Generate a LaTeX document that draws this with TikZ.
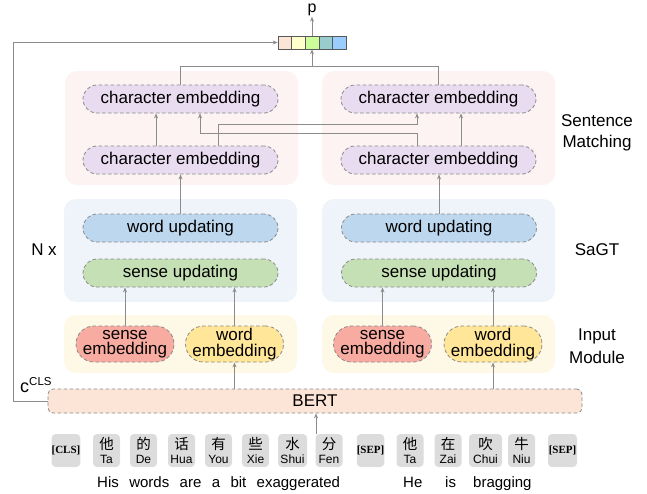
\documentclass[tikz,border=0pt]{standalone}
\usepackage{fontspec}
\setmainfont{Liberation Sans}
\newfontfamily\zhfont{Noto Sans CJK SC}
\newfontfamily\serifb{Liberation Serif}
\usetikzlibrary{arrows.meta}
\definecolor{agray}{HTML}{8C8C8C}
\definecolor{dgray}{HTML}{8A8A8A}
\definecolor{smbg}{HTML}{FCF3F2}
\definecolor{sgbg}{HTML}{EFF4FA}
\definecolor{inbg}{HTML}{FEF8E6}
\definecolor{charc}{HTML}{EADCF0}
\definecolor{wordu}{HTML}{BDD7EE}
\definecolor{senseu}{HTML}{C5E0B4}
\definecolor{sensee}{HTML}{F8ABA0}
\definecolor{worde}{HTML}{FFE699}
\definecolor{bertc}{HTML}{FCE4D6}
\definecolor{tokc}{HTML}{DCDCDC}
\definecolor{ca}{HTML}{FCE4D6}
\definecolor{cb}{HTML}{FFFFCC}
\definecolor{cc}{HTML}{CCFF99}
\definecolor{cd}{HTML}{99CCCC}
\definecolor{ce}{HTML}{99CCFF}
\newcommand{\fs}{\fontsize{17}{14}\selectfont}
\newcommand{\zh}[2]{{\zhfont\fontsize{14.5}{14}\selectfont #1}\\#2}
\newcommand{\spc}[1]{{\serifb\bfseries\fontsize{11}{11}\selectfont #1}}
\begin{document}
\begin{tikzpicture}[x=1pt,y=-1pt,
  grp/.style={draw=none, rounded corners=12pt, inner sep=0, minimum width=233pt},
  pill/.style={draw=dgray, dash pattern=on 3.5pt off 2.5pt, line width=0.8pt, rounded corners=14pt, minimum width=195pt, minimum height=28pt, inner sep=0, font=\fs},
  emb/.style={pill, rounded corners=18pt, minimum width=98pt, minimum height=36pt, align=center, font=\fontsize{17}{15.5}\selectfont},
  arr/.style={draw=agray, line width=0.8pt, -{Stealth[length=5pt,width=4pt]}},
  ln/.style={draw=agray, line width=0.8pt},
  cell/.style={draw=black!65, line width=0.6pt, minimum width=13.6pt, minimum height=13pt, inner sep=0},
  tok/.style={fill=tokc, rounded corners=4pt, minimum width=27pt, minimum height=33pt, inner sep=0, align=center, font=\fontsize{12}{13.5}\selectfont},
  lab/.style={font=\fs, align=center, inner sep=0},
  wd/.style={font=\fontsize{15}{15}\selectfont, anchor=base west, inner sep=0}
]
\useasboundingbox (0,0) rectangle (647,493);

% group backgrounds
\node[grp, fill=smbg, minimum height=114pt] (smL) at (181.5,128) {};
\node[grp, fill=smbg, minimum height=114pt] (smR) at (438.5,128) {};
\node[grp, fill=sgbg, minimum height=103pt] (sgL) at (180.5,250.5) {};
\node[grp, fill=sgbg, minimum height=103pt] (sgR) at (438.5,250.5) {};
\node[grp, fill=inbg, minimum height=58pt] (inL) at (180.5,344) {};
\node[grp, fill=inbg, minimum height=58pt] (inR) at (438.5,344) {};

% sentence matching
\node[pill, fill=charc] (lct) at (180.5,99) {character embedding};
\node[pill, fill=charc] (lcb) at (180.5,160) {character embedding};
\node[pill, fill=charc] (rct) at (438.5,99) {character embedding};
\node[pill, fill=charc] (rcb) at (438.5,160) {character embedding};

% SaGT
\node[pill, fill=wordu] (lwu) at (180.5,228) {word updating};
\node[pill, fill=senseu] (lsu) at (180.5,273) {sense updating};
\node[pill, fill=wordu] (rwu) at (439,228) {word updating};
\node[pill, fill=senseu] (rsu) at (439,273) {sense updating};

% input module
\node[emb, fill=sensee] (lse) at (125,344) {sense\\embedding};
\node[emb, fill=worde] (lwe) at (234.5,344) {word\\embedding};
\node[emb, fill=sensee] (rse) at (382.5,344) {sense\\embedding};
\node[emb, fill=worde] (rwe) at (493,344) {word\\embedding};

% BERT
\node[pill, fill=bertc, rounded corners=5pt, minimum width=534pt, minimum height=24pt] (bert) at (315,401) {BERT};

% output vector
\node[cell, fill=ca] (v1) at (284.8,42.5) {};
\node[cell, fill=cb] (v2) at (298.4,42.5) {};
\node[cell, fill=cc] (v3) at (312,42.5) {};
\node[cell, fill=cd] (v4) at (325.6,42.5) {};
\node[cell, fill=ce] (v5) at (339.2,42.5) {};
\node[font=\fontsize{16}{16}\selectfont, inner sep=0.5pt] (p) at (312,10) {p};

% side labels
\node[lab] (lsm) at (597,133) {Sentence\\[7pt]Matching};
\node[lab] (lsg) at (597,250) {SaGT};
\node[lab] (lin) at (597,346) {Input\\[6pt]Module};
\node[lab] (lnx) at (44,250) {N x};
\node[anchor=base west, inner sep=0] (ccls) at (20,392) {\fontsize{18}{18}\selectfont c\raisebox{6.5pt}{\fontsize{11.5}{12}\selectfont CLS}};

% tokens
\node[tok] (t1) at (66,450.5) {\spc{[CLS]}};
\node[tok] (t2) at (106.5,450.5) {\zh{他}{Ta}};
\node[tok] (t3) at (143.5,450.5) {\zh{的}{De}};
\node[tok] (t4) at (181.5,450.5) {\zh{话}{Hua}};
\node[tok] (t5) at (218.5,450.5) {\zh{有}{You}};
\node[tok] (t6) at (255.5,450.5) {\zh{些}{Xie}};
\node[tok, minimum width=29pt] (t7) at (292.5,450.5) {\zh{水}{Shui}};
\node[tok] (t8) at (329,450.5) {\zh{分}{Fen}};
\node[tok] (t9) at (370.5,450.5) {\spc{[SEP]}};
\node[tok] (t10) at (410,450.5) {\zh{他}{Ta}};
\node[tok] (t11) at (448,450.5) {\zh{在}{Zai}};
\node[tok, minimum width=33pt] (t12) at (485.5,450.5) {\zh{吹}{Chui}};
\node[tok] (t13) at (521.5,450.5) {\zh{牛}{Niu}};
\node[tok, minimum width=29pt] (t14) at (562.5,450.5) {\spc{[SEP]}};

% sentence words
\node[wd] (w1) at (97,487) {His};
\node[wd] (w2) at (129.1,487) {words};
\node[wd] (w3) at (179.5,487) {are};
\node[wd] (w4) at (211.6,487) {a};
\node[wd] (w5) at (230.3,487) {bit};
\node[wd] (w6) at (256.5,487) {exaggerated};
\node[wd] (w7) at (403,487) {He};
\node[wd] (w8) at (445,487) {is};
\node[wd] (w9) at (473,487) {bragging};

% connectors
\coordinate (tk) at (316,434);
\draw[arr] (tk) -- (tk |- bert.south);
\draw[arr] (lwe.south |- bert.north) -- (lwe.south);
\draw[arr] (rwe.south |- bert.north) -- (rwe.south);
\draw[arr] (lse.north) -- (lse.north |- lsu.south);
\draw[arr] (lwe.north) -- (lwe.north |- lsu.south);
\draw[arr] (rse.north) -- (rse.north |- rsu.south);
\draw[arr] (rwe.north) -- (rwe.north |- rsu.south);
\draw[arr] (lwu.north) -- (lcb.south);
\draw[arr] (rwu.north) -- (rwu.north |- rcb.south);
\draw[arr] (lcb.north -| 156,0) -- (lct.south -| 156,0);
\draw[arr] (rcb.north -| 461,0) -- (rct.south -| 461,0);
\draw[arr] (lcb.north -| 218,0) -- (218,124.5) -- (417,124.5) -- (rct.south -| 417,0);
\draw[arr] (rcb.north -| 417,0) -- (417,133) -- (200,133) -- (lct.south -| 200,0);
\coordinate (join) at (312,66);
\draw[ln] (lct.north) -- (lct.north |- join) -| (rct.north);
\draw[arr] (join) -- (v3.south);
\draw[arr] (v3.north) -- (p.south);
\draw[arr] (bert.west) -- ++(-34,0) |- (v1.west);
\end{tikzpicture}
\end{document}
